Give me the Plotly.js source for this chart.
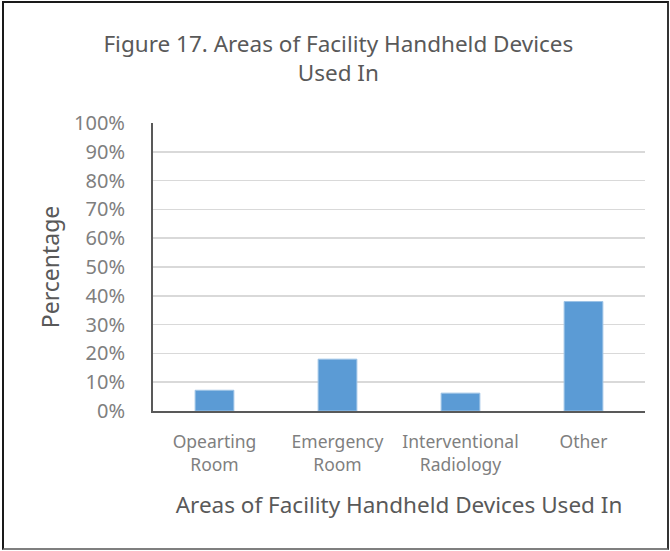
<!DOCTYPE html>
<html><head><meta charset="utf-8">
<script src="https://cdn.plot.ly/plotly-3.0.1.min.js"></script>
<style>
html,body{margin:0;padding:0;background:#fff;}
#wrap{position:relative;width:670px;height:551px;}
#frame{position:absolute;left:2px;top:1px;width:663px;height:545px;border:2px solid #1a1a1a;border-bottom-color:#7f7f7f;border-right-color:#333;pointer-events:none;}
#chart{position:absolute;left:0;top:0;width:670px;height:551px;}
</style></head>
<body><div id="wrap"><div id="chart"></div><div id="frame"></div></div>
<script>
const categories = ["Opearting<br>Room", "Emergency<br>Room", "Interventional<br>Radiology", "Other"];
const percentages = [7.2, 18, 6.2, 38];
const yTickVals = [0,10,20,30,40,50,60,70,80,90,100];
const yTickText = ["0%","10%","20%","30%","40%","50%","60%","70%","80%","90%","100%"];

const font = "Noto Sans, Open Sans, sans-serif";
Plotly.newPlot('chart', [{
  type: 'bar',
  x: categories,
  y: percentages,
  marker: {color: '#5b9bd5', line: {color: '#9dc3e6', width: 1}},
  hoverinfo: 'none'
}], {
  width: 670, height: 551,
  margin: {l: 153, r: 25, t: 123, b: 140},
  paper_bgcolor: '#fff', plot_bgcolor: '#fff',
  bargap: 0.685,
  showlegend: false,
  title: {text: 'Figure 17. Areas of Facility Handheld Devices<br>Used In',
    font: {family: font, size: 22.5, color: '#595959', lineposition: 'none'},
    x: 0.505, xanchor: 'center', yref: 'container', y: 1 - 52/551, yanchor: 'top'},
  xaxis: {
    showline: true, linecolor: '#595959', linewidth: 2,
    tickfont: {family: font, size: 17.5, color: '#7f7f7f'},
    ticks: '', showgrid: false, ticklabelstandoff: 14,
    title: {text: 'Areas of Facility Handheld Devices Used In', font: {family: font, size: 22.5, color: '#595959'}, standoff: 22}
  },
  yaxis: {
    range: [0, 100], tickvals: yTickVals, ticktext: yTickText,
    showline: true, linecolor: '#595959', linewidth: 2,
    gridcolor: '#d9d9d9', gridwidth: 1.5,
    tickfont: {family: font, size: 20, color: '#7f7f7f'},
    ticks: '', ticklabelstandoff: 22, zeroline: false,
    title: {text: 'Percentage', font: {family: font, size: 23, color: '#595959'}, standoff: 8}
  }
}, {staticPlot: true});
</script></body></html>
